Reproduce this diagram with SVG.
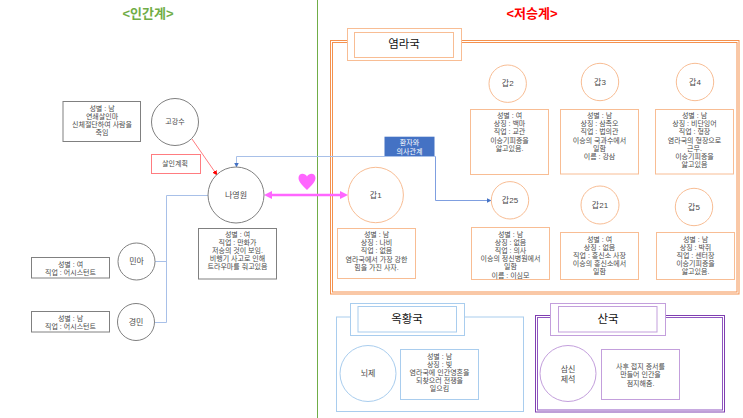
<svg xmlns="http://www.w3.org/2000/svg" width="743" height="418" viewBox="0 0 743 418">
<style>
text{font-family:"Liberation Sans","Noto Sans CJK KR",sans-serif;text-anchor:middle;dominant-baseline:central;fill:#4a4a4a}
.t{font-size:7px}
.n{font-size:8px}
.h{font-size:11.500px;fill:#111}
.title{font-size:13px;font-weight:700}
.g{fill:#fff;stroke:#808080;stroke-width:1}
.o{fill:#fff;stroke:#f8bd94;stroke-width:1}
.b{fill:#fff;stroke:#a9cdee;stroke-width:1}
.p{fill:#fff;stroke:#c39fdc;stroke-width:1}
.line{fill:none;stroke:#a8c0e8;stroke-width:1}
</style>
<defs>
<marker id="ab" markerWidth="5" markerHeight="5" refX="4.5" refY="2.5" orient="auto" markerUnits="userSpaceOnUse"><path d="M0 0L5 2.500L0 5Z" fill="#4472c4"/></marker>
<marker id="ar" markerWidth="5" markerHeight="5" refX="4.5" refY="2.5" orient="auto" markerUnits="userSpaceOnUse"><path d="M0 0L5 2.500L0 5Z" fill="#ff0000"/></marker>
</defs>
<line x1="317.500" y1="0" x2="317.500" y2="418" stroke="#70ad47" stroke-width="1"/>
<text class="title" x="148" y="13" style="fill:#70ad47">&lt;인간계&gt;</text>
<text class="title" x="532" y="13" style="fill:#ff0000">&lt;저승계&gt;</text>

<g id="yeomra-frame">
<rect x="330.500" y="40.500" width="408.500" height="253.500" fill="none" stroke="#f4914e" stroke-width="1"/>
<rect x="332.500" y="42.500" width="404.500" height="249.500" fill="none" stroke="#f4914e" stroke-width="1"/>
<rect x="347.500" y="28.500" width="114" height="32" class="o"/>
<rect x="354.500" y="32.500" width="99" height="25" class="o"/>
<text class="h" x="404" y="43.500">염라국</text>
</g>

<g id="connectors">
<path class="line" d="M208 195.500H166.500V322.500H155"/>
<path class="line" d="M155 261.500H166.500"/>
<path d="M192 139L217 175" fill="none" stroke="#ff7c80" stroke-width="1" marker-end="url(#ar)"/>
<path class="line" d="M435.500 156.500H236.500V167" marker-end="url(#ab)"/>
<path class="line" d="M435.500 156.500V200.500H491" style="stroke:#7f9fe0" marker-end="url(#ab)"/>
<line x1="270" y1="195" x2="342" y2="195" stroke="#ff66ff" stroke-width="2.500"/>
<path d="M264 195L272 191V199Z" fill="#ff66ff"/>
<path d="M348 195L340 191V199Z" fill="#ff66ff"/>
<path d="M307 190C303 186 298.500 182 298.500 178C298.500 172.500 305 172.500 307 176.500C309 172.500 315.500 172.500 315.500 178C315.500 182 311 186 307 190Z" fill="#ff66ff"/>
</g>

<g id="n-gogangsu">
<rect x="63" y="101.500" width="77.500" height="40" class="g"/>
<text class="t" y="107.500"><tspan x="102">성별 : 남</tspan><tspan x="102" dy="8.200">연쇄살인마</tspan><tspan x="102" dy="8.200">신체절단하여 사람을</tspan><tspan x="102" dy="8.200">죽임</tspan></text>
<circle cx="175" cy="122" r="23.500" class="g"/>
<text class="t" x="175" y="121">고강수</text>
</g>
<g id="n-plan">
<rect x="151.500" y="154.500" width="49" height="19" fill="#fff" stroke="#ff7c80"/>
<text class="t" x="175" y="163.500">살인계획</text>
</g>
<g id="n-nayoungwon">
<circle cx="236" cy="195" r="28" class="g"/>
<text class="n" x="236" y="195">나영원</text>
<rect x="198.500" y="228.500" width="78" height="50.500" class="g"/>
<text class="t" y="233.500"><tspan x="237.500">성별 : 여</tspan><tspan x="237.500" dy="8.200">직업 : 만화가</tspan><tspan x="237.500" dy="8.200">저승의 것이 보임.</tspan><tspan x="237.500" dy="8.200">비행기 사고로 인해</tspan><tspan x="237.500" dy="8.200">트라우마를 줘고있음</tspan></text>
</g>
<g id="n-minah">
<circle cx="136.500" cy="261.500" r="18.500" class="g"/>
<text class="n" x="136.500" y="261.500">민아</text>
<rect x="31.500" y="257.500" width="78" height="20.500" class="g"/>
<text class="t" y="263.500"><tspan x="70.500">성별 : 여</tspan><tspan x="70.500" dy="8.500">직업 : 어시스턴트</tspan></text>
</g>
<g id="n-gyeongmin">
<circle cx="136" cy="322" r="18.500" class="g"/>
<text class="n" x="136" y="322">경민</text>
<rect x="31.500" y="311.500" width="78" height="20.500" class="g"/>
<text class="t" y="317.500"><tspan x="70.500">성별 : 남</tspan><tspan x="70.500" dy="8.500">직업 : 어시스턴트</tspan></text>
</g>
<g id="n-relation">
<rect x="384.500" y="136.700" width="50" height="19.300" fill="#4472c4"/>
<text class="t" y="141.500" style="fill:#fff"><tspan x="409.500">환자와</tspan><tspan x="409.500" dy="9">의사관계</tspan></text>
</g>

<g id="n-gap1">
<circle cx="375.700" cy="195" r="27.700" class="o"/>
<text class="n" x="375.700" y="195">갑1</text>
<rect x="337.500" y="228.500" width="78" height="50" class="o"/>
<text class="t" y="234"><tspan x="376.500">성별 : 남</tspan><tspan x="376.500" dy="8.200">상징 : 나비</tspan><tspan x="376.500" dy="8.200">직업 : 없음</tspan><tspan x="376.500" dy="8.200">염라국에서 가장 강한</tspan><tspan x="376.500" dy="8.200">힘을 가진 사자.</tspan></text>
</g>
<g id="n-gap2">
<circle cx="507.700" cy="83.700" r="18.700" class="o"/>
<text class="n" x="507.700" y="83.700">갑2</text>
<rect x="470.500" y="109.500" width="78" height="65" class="o"/>
<text class="t" y="115"><tspan x="509.500">성별 : 여</tspan><tspan x="509.500" dy="8.200">상징 : 백마</tspan><tspan x="509.500" dy="8.200">직업 : 교관</tspan><tspan x="509.500" dy="8.200">이승기피증을</tspan><tspan x="509.500" dy="8.200">앓고있음.</tspan></text>
</g>
<g id="n-gap3">
<circle cx="600" cy="82" r="18.700" class="o"/>
<text class="n" x="600" y="82">갑3</text>
<rect x="560.500" y="109.500" width="78" height="64.500" class="o"/>
<text class="t" y="115"><tspan x="599.500">성별 : 남</tspan><tspan x="599.500" dy="8.200">상징 : 삼족오</tspan><tspan x="599.500" dy="8.200">직업 : 법의관</tspan><tspan x="599.500" dy="8.200">이승의 국과수에서</tspan><tspan x="599.500" dy="8.200">일함</tspan><tspan x="599.500" dy="8.200">이름 : 강삼</tspan></text>
</g>
<g id="n-gap4">
<circle cx="695" cy="82" r="18.700" class="o"/>
<text class="n" x="695" y="82">갑4</text>
<rect x="655.500" y="109.500" width="78" height="64.500" class="o"/>
<text class="t" y="115"><tspan x="694.500">성별 : 남</tspan><tspan x="694.500" dy="8.200">상징 : 비단잉어</tspan><tspan x="694.500" dy="8.200">직업 : 형장</tspan><tspan x="694.500" dy="8.200">염라국의 형장으로</tspan><tspan x="694.500" dy="8.200">근무.</tspan><tspan x="694.500" dy="8.200">이승기피증을</tspan><tspan x="694.500" dy="8.200">앓고있음</tspan></text>
</g>
<g id="n-gap25">
<circle cx="510" cy="200.300" r="18.700" class="o"/>
<text class="n" x="510" y="200.300">갑25</text>
<rect x="471.500" y="227.500" width="78" height="52" class="o"/>
<text class="t" y="233.500"><tspan x="510.500">성별 : 남</tspan><tspan x="510.500" dy="8.200">상징 : 없음</tspan><tspan x="510.500" dy="8.200">직업 : 의사</tspan><tspan x="510.500" dy="8.200">이승의 정신병원에서</tspan><tspan x="510.500" dy="8.200">일함</tspan><tspan x="510.500" dy="8.200">이름 : 이심모</tspan></text>
</g>
<g id="n-gap21">
<circle cx="600" cy="205" r="19" class="o"/>
<text class="n" x="600" y="205">갑21</text>
<rect x="560.500" y="232.500" width="78" height="47" class="o"/>
<text class="t" y="238.500"><tspan x="599.500">성별 : 여</tspan><tspan x="599.500" dy="8.200">상징 : 없음</tspan><tspan x="599.500" dy="8.200">직업 : 흥신소 사장</tspan><tspan x="599.500" dy="8.200">이승의 흥신소에서</tspan><tspan x="599.500" dy="8.200">일함</tspan></text>
</g>
<g id="n-gap5">
<circle cx="694" cy="207" r="18.700" class="o"/>
<text class="n" x="694" y="207">갑5</text>
<rect x="656.500" y="232.500" width="78" height="47" class="o"/>
<text class="t" y="238.500"><tspan x="695.500">성별 : 남</tspan><tspan x="695.500" dy="8.200">상징 : 박쥐</tspan><tspan x="695.500" dy="8.200">직업 : 센터장</tspan><tspan x="695.500" dy="8.200">이승기피증을</tspan><tspan x="695.500" dy="8.200">앓고있음.</tspan></text>
</g>

<g id="n-okhwang">
<rect x="336.500" y="317" width="187" height="94.500" class="b"/>
<rect x="350.500" y="303.500" width="114" height="32" class="b"/>
<rect x="358" y="306.500" width="98.500" height="25.500" class="b"/>
<text class="h" x="407" y="318.500">옥황국</text>
<circle cx="368" cy="373.500" r="28" class="b"/>
<text class="n" x="368" y="373.500">뇌제</text>
<rect x="400.500" y="349.500" width="78" height="50" class="b"/>
<text class="t" y="355.500"><tspan x="439.500">성별 : 남</tspan><tspan x="439.500" dy="8.200">상징 : 빛</tspan><tspan x="439.500" dy="8.200">염라국에 인간영혼을</tspan><tspan x="439.500" dy="8.200">되찾으러 전쟁을</tspan><tspan x="439.500" dy="8.200">일으킴</tspan></text>
</g>
<g id="n-san">
<rect x="535.500" y="315.500" width="189" height="96.500" fill="none" stroke="#7f3fb0"/>
<rect x="537.500" y="317.500" width="185" height="92.500" fill="none" stroke="#8f55c0"/>
<rect x="550.500" y="303.500" width="115" height="32" class="p"/>
<rect x="558.500" y="306.500" width="98.500" height="25.500" class="p"/>
<text class="h" x="608" y="318.500">산국</text>
<circle cx="568" cy="373.500" r="28" class="p"/>
<text class="n" y="369"><tspan x="568">삼신</tspan><tspan x="568" dy="9.500">제석</tspan></text>
<rect x="601.500" y="349.500" width="78" height="50" class="p"/>
<text class="t" y="365.500"><tspan x="640.500">사후 접지 증서를</tspan><tspan x="640.500" dy="8.500">만들어 인간을</tspan><tspan x="640.500" dy="8.500">점지해줌.</tspan></text>
</g>
</svg>
